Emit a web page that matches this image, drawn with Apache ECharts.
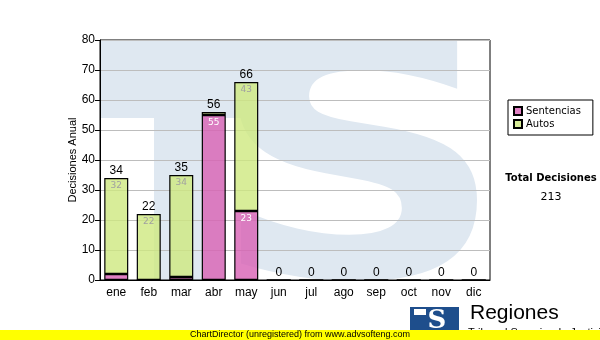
<!DOCTYPE html>
<html>
<head>
<meta charset="utf-8">
<script src="https://cdn.jsdelivr.net/npm/echarts@6/dist/echarts.min.js"></script>
<style>
html,body{margin:0;padding:0;background:#fff;}
#c{width:600px;height:340px;}
</style>
</head>
<body>
<div id="c"></div>
<script>
var months = ['ene','feb','mar','abr','may','jun','jul','ago','sep','oct','nov','dic'];
var sentencias = [2, 0, 1, 55, 23, 0, 0, 0, 0, 0, 0, 0];
var autos = [32, 22, 34, 1, 43, 0, 0, 0, 0, 0, 0, 0];
var yTicks = {min: 0, max: 80, interval: 10};
var totalLabel = 'Total Decisiones';

var totals = months.map(function (m, i) { return sentencias[i] + autos[i]; });
var grandTotal = totals.reduce(function (a, b) { return a + b; }, 0);
var zeros = months.map(function () { return 0; });

var chart = echarts.init(document.getElementById('c'), null, {renderer: 'canvas'});
var wm = '#dfe8f1';
var sans = 'Arial, "Liberation Sans"';
var option = {
  animation: false,
  backgroundColor: '#fff',
  grid: {left: 100, top: 40, right: 110, bottom: 60, show: true, borderColor: '#000', borderWidth: 1, backgroundColor: 'transparent'},
  legend: {
    data: ['Sentencias', 'Autos'],
    orient: 'vertical',
    left: 508, top: 100,
    borderColor: '#000', borderWidth: 1, borderRadius: 0,
    padding: [6, 12, 6, 5],
    itemWidth: 8, itemHeight: 8, itemGap: 3,
    icon: 'rect',
    textStyle: {fontFamily: 'DejaVu Sans', fontSize: 10, color: '#000', padding: [0, 0, 0, -1]}
  },
  xAxis: {
    type: 'category', data: months,
    axisLine: {lineStyle: {color: '#000'}},
    axisTick: {alignWithLabel: true, length: 4, lineStyle: {color: '#000'}},
    axisLabel: {color: '#000', fontFamily: sans, fontSize: 12, margin: 7}
  },
  yAxis: {
    type: 'value', min: yTicks.min, max: yTicks.max, interval: yTicks.interval,
    name: 'Decisiones Anual', nameLocation: 'middle', nameGap: 22, nameMoveOverlap: false,
    nameTextStyle: {fontFamily: sans, fontSize: 11, color: '#000'},
    axisLine: {show: true, lineStyle: {color: '#000'}},
    axisTick: {show: true, length: 5, lineStyle: {color: '#000'}},
    axisLabel: {color: '#000', fontFamily: sans, fontSize: 12, margin: 5},
    splitLine: {lineStyle: {color: '#bdbdbd'}}
  },
  series: [
    {
      name: 'Sentencias', type: 'bar', stack: 's', data: sentencias, barWidth: 24,
      itemStyle: {color: 'rgba(216,96,180,0.8)', borderColor: '#000', borderWidth: 1.2},
      label: {show: true, position: 'insideTop', distance: 3, color: '#fff', fontFamily: 'DejaVu Sans', fontSize: 9,
        formatter: function (p) { return p.value >= 4 ? p.value : ''; }}
    },
    {
      name: 'Autos', type: 'bar', stack: 's', data: autos, barWidth: 24,
      itemStyle: {color: 'rgba(206,232,128,0.8)', borderColor: '#000', borderWidth: 1.2},
      label: {show: true, position: 'insideTop', distance: 3, color: '#a0a0a0', fontFamily: 'DejaVu Sans', fontSize: 9,
        formatter: function (p) { return p.value >= 4 ? p.value : ''; }}
    },
    {
      name: 'Total', type: 'bar', stack: 's', data: zeros, barWidth: 24,
      itemStyle: {color: 'transparent', borderWidth: 0},
      label: {show: true, position: 'top', distance: 1, color: '#000', fontFamily: sans, fontSize: 12,
        formatter: function (p) { return totals[p.dataIndex]; }}
    }
  ],
  graphic: [
    // watermark (T + S)
    {type: 'rect', z: -10, shape: {x: 100, y: 40, width: 200, height: 78}, style: {fill: wm}},
    {type: 'rect', z: -10, shape: {x: 154, y: 118, width: 70, height: 162}, style: {fill: wm}},
    {type: 'text', z: -10, x: 358, y: 188, scaleX: 1.22, scaleY: 1,
      style: {text: 'S', font: 'bold 340px "DejaVu Sans"', fill: wm, textAlign: 'center', textVerticalAlign: 'middle'}},
    // covers outside plot
    {type: 'rect', z: -5, shape: {x: 0, y: 0, width: 600, height: 40}, style: {fill: '#fff'}},
    {type: 'rect', z: -5, shape: {x: 491, y: 0, width: 109, height: 340}, style: {fill: '#fff'}},
    {type: 'rect', z: -5, shape: {x: 0, y: 281, width: 600, height: 59}, style: {fill: '#fff'}},
    // totals
    {type: 'text', x: 551, y: 178, style: {text: totalLabel, font: 'bold 10px "DejaVu Sans"', fill: '#000', textAlign: 'center', textVerticalAlign: 'middle'}},
    {type: 'text', x: 551, y: 197, style: {text: String(grandTotal), font: '11px "DejaVu Sans"', fill: '#000', textAlign: 'center', textVerticalAlign: 'middle'}},
    // footer logo
    {type: 'rect', z: 5, shape: {x: 410, y: 307, width: 49, height: 25}, style: {fill: '#1e4e8c'}},
    {type: 'text', z: 6, x: 437, y: 321, style: {text: 'S', font: 'bold 26px "DejaVu Serif"', fill: '#fff', textAlign: 'center', textVerticalAlign: 'middle'}},
    {type: 'rect', z: 6, shape: {x: 414, y: 309, width: 12, height: 6}, style: {fill: '#fff'}},
    {type: 'text', z: 5, left: 470, top: 303, style: {text: 'Regiones', font: '21px Arial, "Liberation Sans"', fill: '#000'}},
    {type: 'text', z: 5, left: 468, top: 327, style: {text: 'Tribunal Superior de Justicia', font: '11px Arial, "Liberation Sans"', fill: '#000'}},
    {type: 'rect', z: 10, shape: {x: 0, y: 330, width: 600, height: 10}, style: {fill: '#ffff00'}},
    {type: 'text', z: 11, left: 190, top: 330, style: {text: 'ChartDirector (unregistered) from www.advsofteng.com', font: '9px Arial, "Liberation Sans"', fill: '#000'}}
  ]
};
chart.setOption(option);
</script>
</body>
</html>
